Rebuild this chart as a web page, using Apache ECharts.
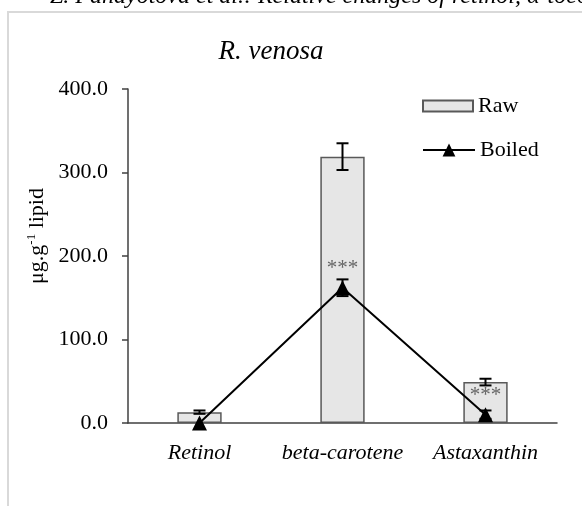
<!DOCTYPE html>
<html>
<head>
  <meta charset="UTF-8">
  <title>R. venosa</title>
  <script src="https://cdn.jsdelivr.net/npm/echarts@6/dist/echarts.min.js"></script>
  <style>
  html, body { margin: 0; padding: 0; background: #fff; }
  #chart { width: 582px; height: 506px; }
  </style>
</head>
<body>
  <div id="chart"></div>
<script>
var categories = ['Retinol', 'beta-carotene', 'Astaxanthin'];
var rawValues = [13, 319, 49];
var rawErrors = [2, 16, 4];
var boiledValues = [0, 162, 10];
var boiledErrors = [0, 10, 5];
var boiledMarks = ['', '***', '***'];
var yTicks = [0, 100, 200, 300, 400];

var serif = 'Liberation Serif';
var chart = echarts.init(document.getElementById('chart'));

// error bar: vertical line with caps, centred on the category
function errorBars(values, errors, z) {
  var data = values.map(function (v, i) { return [i, v - errors[i], v + errors[i]]; });
  return {
    type: 'custom',
    z: z,
    silent: true,
    data: data,
    renderItem: function (params, api) {
      var lo = api.coord([api.value(0), api.value(1)]);
      var hi = api.coord([api.value(0), api.value(2)]);
      if (hi[1] === lo[1]) return null;
      var w = 6;
      var st = { stroke: '#000', lineWidth: 2 };
      return {
        type: 'group',
        children: [
          { type: 'line', shape: { x1: hi[0], y1: hi[1], x2: lo[0], y2: lo[1] }, style: st },
          { type: 'line', shape: { x1: hi[0] - w, y1: hi[1], x2: hi[0] + w, y2: hi[1] }, style: st },
          { type: 'line', shape: { x1: lo[0] - w, y1: lo[1], x2: lo[0] + w, y2: lo[1] }, style: st }
        ]
      };
    }
  };
}

option = {
  animation: false,
  title: {
    text: 'R. venosa',
    left: 266,
    top: 33,
    textAlign: 'center',
    textStyle: { fontFamily: serif, fontStyle: 'italic', fontWeight: 'normal', fontSize: 27, color: '#000' }
  },
  graphic: [
    {
      type: 'rect',
      shape: { x: 8, y: 12, width: 620, height: 540 },
      style: { fill: 'none', stroke: '#d9d9d9', lineWidth: 2 },
      z: -1
    },
    {
      type: 'text',
      left: 50,
      top: -15,
      style: {
        text: 'Z. Panayotova et al.: Relative changes of retinol, α-tocopherol',
        font: 'italic 24px "Liberation Serif"',
        fill: '#000'
      }
    },
    {
      // y-axis title, rotated
      type: 'text',
      x: 37,
      y: 236,
      rotation: Math.PI / 2,
      style: {
        text: 'μg.g{sup|-1} lipid',
        font: '22px "Liberation Serif"',
        fill: '#000',
        align: 'center',
        verticalAlign: 'middle',
        rich: { sup: { fontFamily: serif, fontSize: 13, padding: [0, 0, 10, 0] } }
      }
    }
  ],
  legend: [{
    data: [{ name: 'Raw', icon: 'rect' }],
    left: 417,
    top: 90,
    itemWidth: 50,
    itemHeight: 11,
    textStyle: { fontFamily: serif, fontSize: 22, color: '#000' }
  }, {
    data: ['Boiled'],
    left: 417,
    top: 134,
    itemWidth: 52,
    itemHeight: 16,
    textStyle: { fontFamily: serif, fontSize: 22, color: '#000' }
  }],
  grid: { left: 128, right: 25, top: 89, bottom: 83 },
  xAxis: {
    type: 'category',
    data: categories,
    axisTick: { show: false },
    axisLine: { lineStyle: { color: '#404040', width: 1.5 } },
    axisLabel: { interval: 0, margin: 19, fontFamily: serif, fontStyle: 'italic', fontSize: 22, color: '#000' }
  },
  yAxis: {
    type: 'value',
    min: yTicks[0],
    max: yTicks[yTicks.length - 1],
    interval: 100,
    splitLine: { show: false },
    axisLine: { show: true, lineStyle: { color: '#404040', width: 1.5 } },
    axisTick: { show: true, length: 6, lineStyle: { color: '#404040', width: 1.5 } },
    axisLabel: {
      margin: 20, fontFamily: serif, fontSize: 22, color: '#000',
      formatter: function (v) { return v.toFixed(1); }
    }
  },
  series: [{
    name: 'Raw',
    type: 'bar',
    barWidth: '31%',
    data: rawValues,
    itemStyle: { color: '#e6e6e6', borderColor: '#595959', borderWidth: 1.5 },
    z: 1
  },
  errorBars(rawValues, rawErrors, 2),
  {
    name: 'Boiled',
    type: 'line',
    data: boiledValues,
    symbol: 'triangle',
    symbolSize: 15,
    itemStyle: { color: '#000' },
    lineStyle: { color: '#000', width: 2 },
    label: {
      show: true,
      position: 'top',
      distance: 1,
      fontFamily: serif,
      fontSize: 21,
      color: '#666',
      formatter: function (p) { return boiledMarks[p.dataIndex]; }
    },
    z: 4
  },
  errorBars(boiledValues, boiledErrors, 3)
  ]
};

chart.setOption(option);
</script>
</body>
</html>
